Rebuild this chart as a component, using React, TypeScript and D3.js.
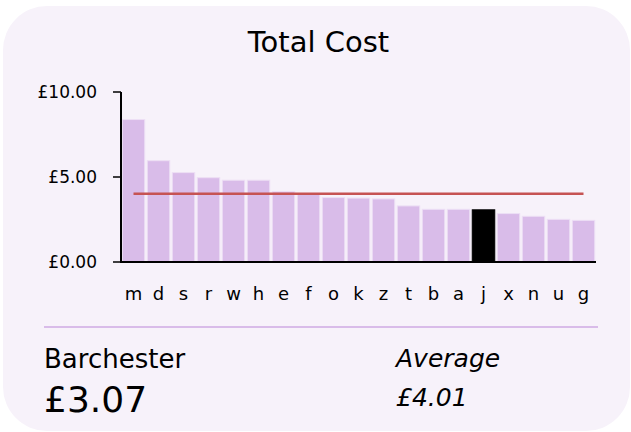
import { scaleBand, scaleLinear } from "d3";

const width = 631;
const height = 432;

const areas = ["m", "d", "s", "r", "w", "h", "e", "f", "o", "k", "z", "t", "b", "a", "j", "x", "n", "u", "g"];
const costs = [8.38, 5.96, 5.26, 4.96, 4.81, 4.81, 4.14, 4.03, 3.79, 3.76, 3.71, 3.3, 3.1, 3.1, 3.07, 2.85, 2.69, 2.51, 2.45];
const yTicks = [0, 5, 10];
const highlight = "j";
const highlightName = "Barchester";
const average = 4.01;

const font = "'DejaVu Sans', Verdana, sans-serif";
const money = (v: number) => "£" + v.toFixed(2);

const App = () => {
  const x = scaleBand<string>().domain(areas).range([121, 596]).paddingInner(0.1).paddingOuter(0.05);
  const y = scaleLinear().domain([0, 10]).range([262, 92]);
  const first = x(areas[0])! + x.bandwidth() / 2;
  const last = x(areas[areas.length - 1])! + x.bandwidth() / 2;
  const hiValue = costs[areas.indexOf(highlight)];

  return (
    <div style={{ position: "absolute", left: 0, top: 0 }}>
      <svg width={width} height={height} style={{ display: "block", fontFamily: font }}>
        <rect x={3} y={6} width={627} height={425} rx={44} fill="#f7f2fa" />
        <text x={318.5} y={52} textAnchor="middle" fontSize={29}>
          Total Cost
        </text>

        {areas.map((a, i) => (
          <rect
            key={a}
            x={x(a)}
            y={y(costs[i])}
            width={x.bandwidth()}
            height={y(0) - y(costs[i])}
            fill={a === highlight ? "#000" : "#d9bce9"}
            stroke={a === highlight ? "#000" : "#eddff5"}
            strokeWidth={1}
          />
        ))}

        <line x1={first} x2={last} y1={y(average)} y2={y(average)} stroke="#c65353" strokeWidth={2.5} />

        {/* axes */}
        <line x1={121} x2={121} y1={y(10)} y2={y(0) + 1} stroke="#000" strokeWidth={2} />
        <line x1={120} x2={596} y1={y(0)} y2={y(0)} stroke="#000" strokeWidth={2} />
        {yTicks.map((t) => (
          <g key={t}>
            <line x1={113} x2={121} y1={y(t)} y2={y(t)} stroke="#000" strokeWidth={1.5} />
            <text x={97} y={y(t)} dy="0.35em" textAnchor="end" fontSize={17}>
              {money(t)}
            </text>
          </g>
        ))}
        {areas.map((a) => (
          <text key={a} x={x(a)! + x.bandwidth() / 2} y={300} textAnchor="middle" fontSize={18}>
            {a}
          </text>
        ))}

        <line x1={44} x2={598} y1={327} y2={327} stroke="#d9bce9" strokeWidth={2} />
        <text x={44} y={368} fontSize={26}>
          {highlightName}
        </text>
        <text x={44} y={412} fontSize={36}>
          {money(hiValue)}
        </text>
        <text x={396} y={367} fontSize={25} fontStyle="italic">
          Average
        </text>
        <text x={396} y={406} fontSize={25} fontStyle="italic">
          {money(average)}
        </text>
      </svg>
    </div>
  );
};

export default App;
